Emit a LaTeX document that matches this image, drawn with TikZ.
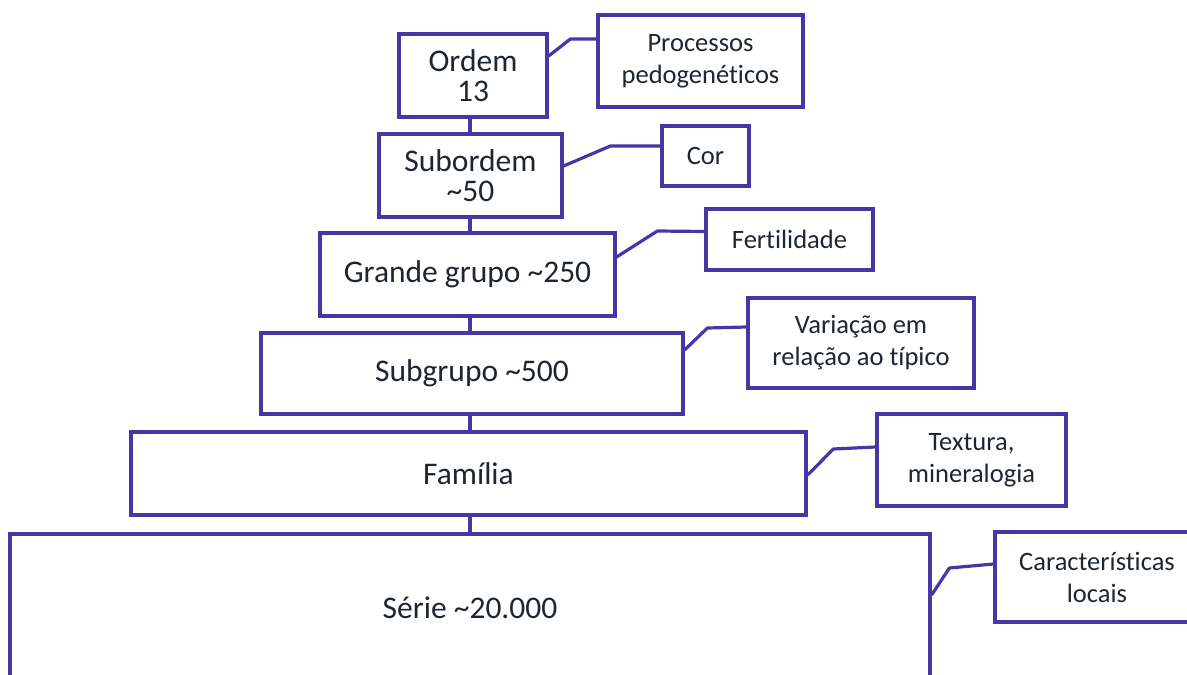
\documentclass[tikz,border=0pt]{standalone}
\usepackage{fontspec}
\setmainfont{Carlito}[Ligatures=NoCommon]
\definecolor{frame}{HTML}{4A35A6}
\definecolor{ink}{HTML}{1F2630}
\begin{document}
\begin{tikzpicture}[x=1pt,y=-1pt,
  mainbox/.style={draw=frame,line width=3.2pt,fill=white,text=ink,align=center,inner sep=0pt,
    font=\fontsize{31.5}{30}\selectfont},
  notebox/.style={draw=frame,line width=3.2pt,fill=white,text=ink,align=center,inner sep=0pt,
    font=\fontsize{26.5}{32}\selectfont},
  link/.style={draw=frame,line width=3.2pt,line join=round}]
\useasboundingbox (0,0) rectangle (1187,675);
\clip (0,0) rectangle (1187,675);
\coordinate (spine) at (470,0);
% main hierarchy
\node[mainbox,minimum width=148pt,minimum height=83pt] (ordem) at (473,75.5) {Ordem\\13};
\node[mainbox,minimum width=183pt,minimum height=83pt] (subordem) at (470.5,175.5) {Subordem\\\textasciitilde50};
\node[mainbox,minimum width=295pt,minimum height=83pt] (grande) at (467.5,274.5) {Grande grupo \textasciitilde250};
\node[mainbox,minimum width=422pt,minimum height=81pt] (subgrupo) at (472,373.5) {Subgrupo \textasciitilde500};
\node[mainbox,minimum width=675pt,minimum height=83pt] (familia) at (468.5,473.5) {Família};
\node[mainbox,minimum width=920pt,minimum height=148pt] (serie) at (470,608) {Série \textasciitilde20.000};
% callouts
\node[notebox,minimum width=205pt,minimum height=92pt] (processos) at (700.5,61) {Processos\\pedogenéticos};
\node[notebox,minimum width=87pt,minimum height=60pt] (cor) at (705.5,156) {Cor};
\node[notebox,minimum width=167pt,minimum height=61pt] (fert) at (789.5,239.5) {Fertilidade};
\node[notebox,minimum width=226pt,minimum height=90pt] (variacao) at (861,343) {Variação em\\relação ao típico};
\node[notebox,minimum width=189pt,minimum height=92pt] (textura) at (971.5,460) {Textura,\\mineralogia};
\node[notebox,minimum width=204pt,minimum height=90pt] (caract) at (1097,577) {Características\\locais};
% spine connectors
\draw[link] (ordem.south -| spine) -- (subordem.north -| spine);
\draw[link] (subordem.south -| spine) -- (grande.north -| spine);
\draw[link] (grande.south -| spine) -- (subgrupo.north -| spine);
\draw[link] (subgrupo.south -| spine) -- (familia.north -| spine);
\draw[link] (familia.south -| spine) -- (serie.north -| spine);
% callout connectors
\draw[link] ([yshift=19.5pt]ordem.east) -- ([xshift=-26pt,yshift=22pt]processos.west) -- ([yshift=22pt]processos.west);
\draw[link] ([yshift=9.5pt]subordem.east) -- ([xshift=-50pt,yshift=10pt]cor.west) -- ([yshift=10pt]cor.west);
\draw[link] ([yshift=17.5pt]grande.east) -- ([xshift=-47pt,yshift=8.5pt]fert.west) -- ([yshift=8pt]fert.west);
\draw[link] ([yshift=23.5pt]subgrupo.east) -- ([xshift=-39pt,yshift=15pt]variacao.west) -- ([yshift=16pt]variacao.west);
\draw[link] ([yshift=-1.5pt]familia.east) -- ([xshift=-42pt,yshift=11pt]textura.west) -- ([yshift=13pt]textura.west);
\draw[link] ([yshift=13pt]serie.east) -- ([xshift=-44pt,yshift=9pt]caract.west) -- ([yshift=13pt]caract.west);
\end{tikzpicture}
\end{document}
